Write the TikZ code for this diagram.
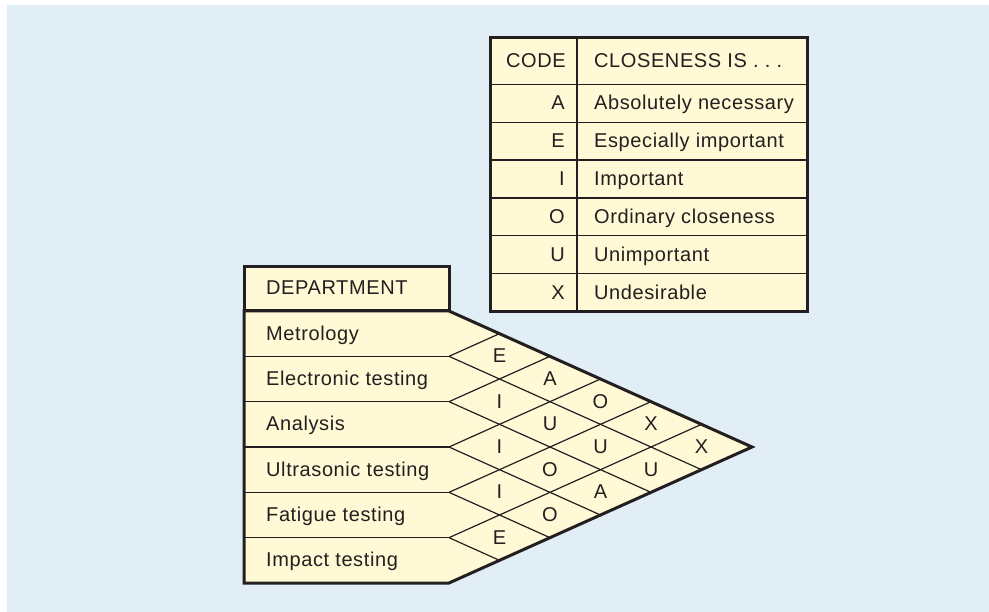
\documentclass[tikz,border=0pt]{standalone}
\usepackage{fontspec}
\setmainfont{Liberation Sans}
\newfontfamily\tabfont{Liberation Sans}[LetterSpace=3.0]

\definecolor{bgblue}{HTML}{E2EEF5}
\definecolor{cellfill}{HTML}{FFF9D5}
\definecolor{ink}{HTML}{231F20}

\tikzset{
  frame/.style={draw=ink, line width=3pt, line join=miter},
  rule/.style={draw=ink, line width=1.2pt},
  celltext/.style={inner sep=0pt, text=ink, font=\tabfont\fontsize{20}{24}\selectfont},
}

\begin{document}
\begin{tikzpicture}[x=1pt, y=-1pt]

  % --- 1. background ---
  \useasboundingbox (0,0) rectangle (989,612);
  \fill[bgblue] (7,5) rectangle (989,612);

  % --- 2. code legend ---
  \def\legL{490} \def\legM{577} \def\legR{807.5}
  \def\legT{38}  \def\legH{84.3} \def\legB{311.7}
  \def\rowH{37.9}
  \filldraw[fill=cellfill, frame] (\legL,\legT) rectangle (\legR,\legB);
  \draw[rule] (\legM,\legT) -- (\legM,\legB);
  \foreach \r in {0,...,5}
    \draw[rule] (\legL,{\legH+\r*\rowH}) -- (\legR,{\legH+\r*\rowH});

  \node[celltext, anchor=base east] (codehead) at (566,67.7) {CODE};
  \node[celltext, anchor=base west] (meanhead) at (594,67.7) {CLOSENESS IS .~.~.};
  \foreach \c/\m [count=\i from 0] in {A/Absolutely necessary, E/Especially important,
      I/Important, O/Ordinary closeness, U/Unimportant, X/Undesirable} {
    \pgfmathsetmacro{\yb}{\legH + (\i+0.5)*\rowH + 6.5}
    \node[celltext, anchor=base east] (code\c) at (565,\yb) {\c};
    \node[celltext, anchor=base west] (mean\c) at (594,\yb) {\m};
  }

  % --- 3. department block ---
  \def\depL{244} \def\depR{449} \def\depT{266.7} \def\depH{311}
  \def\ww{50.5}  \def\hh{22.667}
  \coordinate (tip) at ({\depR+6*\ww},{\depH+6*\hh});
  \filldraw[fill=cellfill, frame] (\depL,\depH) -- (\depR,\depH) -- (tip)
    -- (\depR,{\depH+12*\hh}) -- (\depL,{\depH+12*\hh}) -- cycle;
  \filldraw[fill=cellfill, frame] (\depL,\depT) rectangle (\depR,\depH);
  \node[celltext, anchor=base west] (depthead) at (266,295) {DEPARTMENT};

  % --- 4. rows and diamond grid ---
  \foreach \d [count=\k] in {Metrology, Electronic testing, Analysis,
      Ultrasonic testing, Fatigue testing, Impact testing} {
    \pgfmathsetmacro{\yb}{\depH + (2*\k-1)*\hh + 6.5}
    \node[celltext, anchor=base west] (dept\k) at (266,\yb) {\d};
  }
  \foreach \k in {1,...,5} {
    \pgfmathsetmacro{\ys}{\depH + 2*\k*\hh}
    \coordinate (sep\k) at (\depR,\ys);
    \draw[rule] (\depL,\ys) -- (sep\k);
    \draw[rule] (sep\k) -- ++({\k*\ww},{-\k*\hh});
    \draw[rule] (sep\k) -- ++({(6-\k)*\ww},{(6-\k)*\hh});
  }

  % --- 5. closeness codes ---
  \foreach \i/\j/\c in {1/2/E, 1/3/A, 1/4/O, 1/5/X, 1/6/X,
      2/3/I, 2/4/U, 2/5/U, 2/6/U, 3/4/I, 3/5/O, 3/6/A, 4/5/I, 4/6/O, 5/6/E} {
    \pgfmathsetmacro{\xc}{\depR + (\j-\i)*\ww}
    \pgfmathsetmacro{\yc}{\depH + (\i+\j-1)*\hh + 6.5}
    \node[celltext, anchor=base] (rel\i\j) at (\xc,\yc) {\c};
  }

\end{tikzpicture}
\end{document}
